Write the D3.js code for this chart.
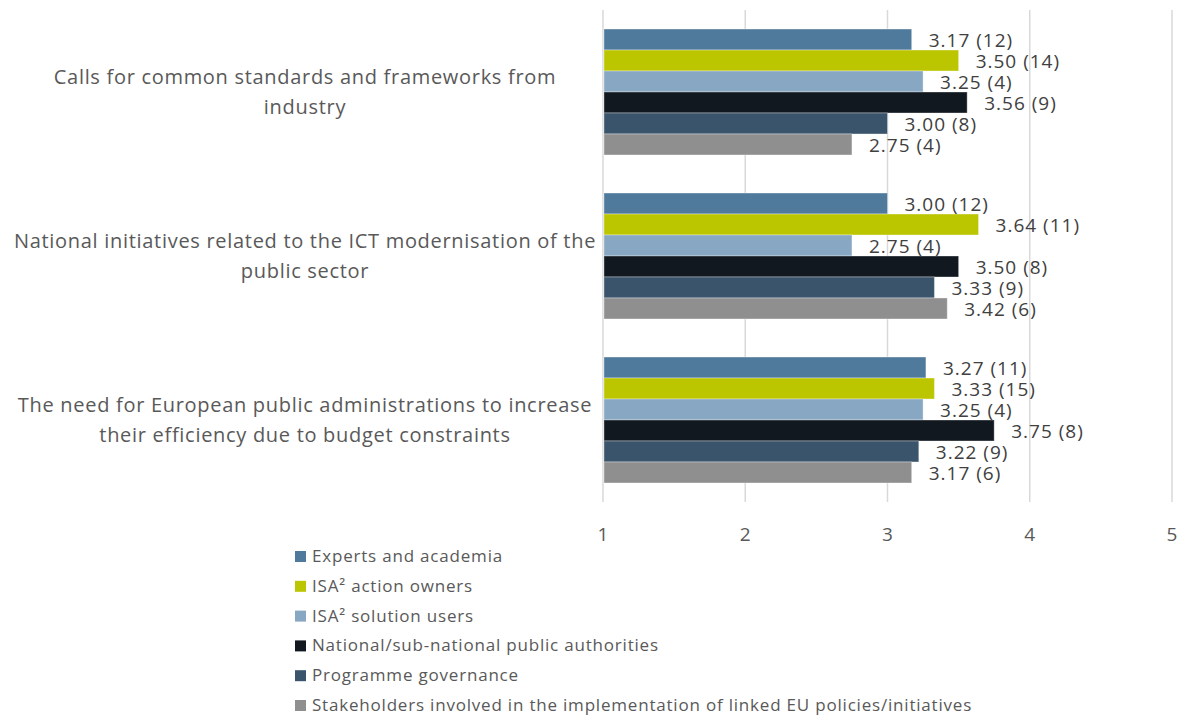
<!DOCTYPE html>
<html>
<head>
<meta charset="utf-8">
<script src="https://cdn.jsdelivr.net/npm/d3@7"></script>
<style>
  body { margin: 0; background: #fff; }
  text { font-family: "Open Sans", sans-serif; fill: #595959; }
</style>
</head>
<body>
<div id="chart"></div>
<script>
// ---- Data -------------------------------------------------------------
const categories = [
  'Calls for common standards and frameworks from industry',
  'National initiatives related to the ICT modernisation of the public sector',
  'The need for European public administrations to increase their efficiency due to budget constraints'
];
const categoryLines = [
  ['Calls for common standards and frameworks from', 'industry'],
  ['National initiatives related to the ICT modernisation of the', 'public sector'],
  ['The need for European public administrations to increase', 'their efficiency due to budget constraints']
];
const seriesNames = [
  'Experts and academia',
  'ISA² action owners',
  'ISA² solution users',
  'National/sub-national public authorities',
  'Programme governance',
  'Stakeholders involved in the implementation of linked EU policies/initiatives'
];
const seriesColors = ['#4f7a9c', '#bbc600', '#87a7c3', '#111820', '#3a546b', '#8f8f8f'];
// mean score per category, one array per series
const meanScores = [
  [3.17, 3.00, 3.27],
  [3.50, 3.64, 3.33],
  [3.25, 2.75, 3.25],
  [3.56, 3.50, 3.75],
  [3.00, 3.33, 3.22],
  [2.75, 3.42, 3.17]
];
// number of respondents per category, one array per series
const respondents = [
  [12, 12, 11],
  [14, 11, 15],
  [4, 4, 4],
  [9, 8, 8],
  [8, 9, 9],
  [4, 6, 6]
];
const xTicks = [1, 2, 3, 4, 5];

// ---- Dimensions -------------------------------------------------------
const width = 1178, height = 715;
const plot = { left: 603, right: 1172, top: 10, bottom: 502 };

const svg = d3.select('#chart').append('svg')
  .attr('width', width)
  .attr('height', height);

// ---- Scales -----------------------------------------------------------
const xScale = d3.scaleLinear().domain([1, 5]).range([plot.left, plot.right]);

const yGroup = d3.scaleBand()
  .domain(categories)
  .range([plot.top, plot.bottom])
  .paddingInner(0.232)
  .paddingOuter(0.116);

const ySeries = d3.scaleBand()
  .domain(seriesNames)
  .range([0, yGroup.bandwidth()]);

// ---- Grid -------------------------------------------------------------
svg.append('g')
  .selectAll('line')
  .data(xTicks)
  .join('line')
  .attr('x1', d => xScale(d))
  .attr('x2', d => xScale(d))
  .attr('y1', plot.top)
  .attr('y2', plot.bottom)
  .attr('stroke', '#d9d9d9')
  .attr('stroke-width', 1.5);

// ---- Bars -------------------------------------------------------------
const rows = [];
categories.forEach((c, ci) => {
  seriesNames.forEach((s, si) => {
    rows.push({ cat: c, series: s, si, value: meanScores[si][ci], n: respondents[si][ci] });
  });
});

const groups = svg.append('g');
groups.selectAll('rect')
  .data(rows)
  .join('rect')
  .attr('x', xScale(1) + 1)
  .attr('y', d => yGroup(d.cat) + ySeries(d.series))
  .attr('width', d => xScale(d.value) - xScale(1) - 1)
  .attr('height', ySeries.bandwidth())
  .attr('fill', d => seriesColors[d.si])
  .attr('stroke', '#ffffff')
  .attr('stroke-opacity', 0.35)
  .attr('stroke-width', 1);

groups.selectAll('text')
  .data(rows)
  .join('text')
  .attr('x', d => xScale(d.value) + 17)
  .attr('y', d => yGroup(d.cat) + ySeries(d.series) + ySeries.bandwidth() / 2)
  .attr('dy', '0.4em')
  .style('font-size', '19px')
  .style('letter-spacing', '1px')
  .style('fill', '#404040')
  .text(d => `${d.value.toFixed(2)} (${d.n})`);

// ---- Axis labels ------------------------------------------------------
svg.append('g')
  .selectAll('text')
  .data(xTicks)
  .join('text')
  .attr('x', d => xScale(d))
  .attr('y', 534)
  .attr('dy', '0.35em')
  .attr('text-anchor', 'middle')
  .style('font-size', '19px')
  .text(d => d);

// ---- Category labels --------------------------------------------------
const catLabels = svg.append('g')
  .selectAll('text')
  .data(categories)
  .join('text')
  .attr('text-anchor', 'middle')
  .style('font-size', '20px')
  .style('letter-spacing', '0.7px')
  .attr('transform', d => `translate(305,${yGroup(d) + yGroup.bandwidth() / 2})`);

catLabels.selectAll('tspan')
  .data((d, i) => categoryLines[i])
  .join('tspan')
  .attr('x', 0)
  .attr('y', (d, i) => (i - 0.5) * 30)
  .attr('dy', '0.35em')
  .text(d => d);

// ---- Legend -----------------------------------------------------------
const legend = svg.append('g')
  .selectAll('g')
  .data(seriesNames)
  .join('g')
  .attr('transform', (d, i) => `translate(295,${556 + i * 29.8})`);

legend.append('rect')
  .attr('x', 0)
  .attr('y', -5)
  .attr('width', 11)
  .attr('height', 11)
  .attr('fill', (d, i) => seriesColors[i]);

legend.append('text')
  .attr('x', 17)
  .attr('y', 0)
  .attr('dy', '0.35em')
  .style('font-size', '17px')
  .style('letter-spacing', '0.8px')
  .text(d => d);
</script>
</body>
</html>
